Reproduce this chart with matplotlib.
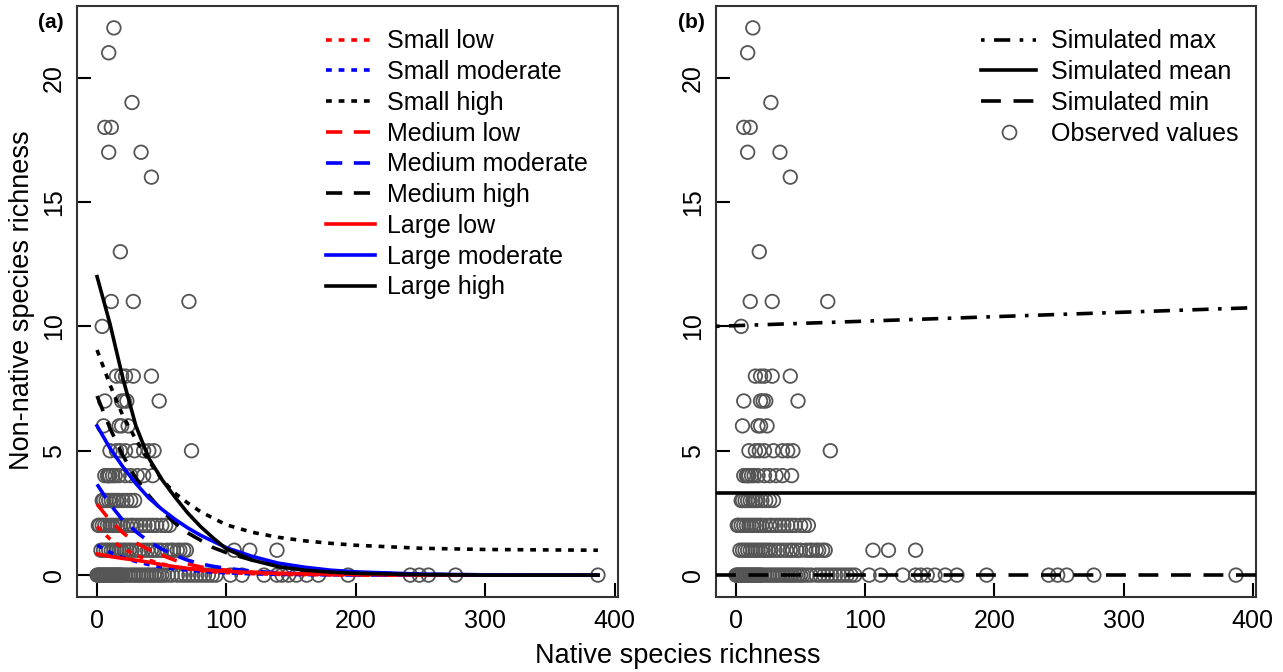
import matplotlib
matplotlib.use("Agg")
import matplotlib.pyplot as plt
from matplotlib.lines import Line2D

plt.rcParams['font.family'] = ['Liberation Sans', 'DejaVu Sans']

# ---------------- observed data (native richness, non-native richness) ----------------
obs_x_22 = [13]
obs_x_21 = [9]
obs_x_19 = [27]
obs_x_18 = [6, 11]
obs_x_17 = [9, 34]
obs_x_16 = [42]
obs_x_13 = [18]
obs_x_11 = [11, 28, 71]
obs_x_10 = [4]
obs_x_8 = [15, 19, 22, 28, 42]
obs_x_7 = [6, 19, 21, 23, 48]
obs_x_6 = [5, 17, 19, 24]
obs_x_5 = [10, 15, 18, 22, 29, 36, 40, 44, 73]
obs_x_4 = [6, 8, 9, 10, 12, 14, 17, 22, 26, 31, 36, 43]
obs_x_3 = [4, 5, 7, 9, 11, 13, 15, 17, 20, 23, 26, 29]
obs_x_2 = [1, 2, 4, 6, 8, 10, 12, 14, 16, 18, 20, 23, 26, 28, 31, 34, 37, 40,
           43, 46, 50, 53, 56]
obs_x_1 = [3, 5, 7, 9, 11, 13, 15, 17, 19, 21, 23, 25, 27, 30, 33, 36, 39, 42,
           44, 47, 50, 54, 57, 59, 62, 64, 67, 69, 106, 118, 139]
obs_x_0 = [0, 1, 2, 3, 4, 5, 6, 7, 8, 9, 10, 11, 12, 13, 14, 15, 16, 17, 18,
           19, 20, 22, 24, 26, 28, 30, 32, 34, 36, 38, 40, 42, 44, 46, 48, 50,
           52, 55, 58, 62, 65, 68, 71, 74, 77, 80, 83, 86, 89, 92, 103, 112,
           129, 139, 143, 148, 154, 162, 171, 194, 242, 249, 256, 277, 387]

obs_groups = {22: obs_x_22, 21: obs_x_21, 19: obs_x_19, 18: obs_x_18,
              17: obs_x_17, 16: obs_x_16, 13: obs_x_13, 11: obs_x_11,
              10: obs_x_10, 8: obs_x_8, 7: obs_x_7, 6: obs_x_6, 5: obs_x_5,
              4: obs_x_4, 3: obs_x_3, 2: obs_x_2, 1: obs_x_1, 0: obs_x_0}
native = []
nonnative = []
for yv, xs in obs_groups.items():
    native += xs
    nonnative += [yv] * len(xs)

# ---------------- fitted curves, panel (a) ----------------
curve_x = [0, 10, 20, 30, 40, 50, 60, 70, 80, 90, 100, 120, 140, 160, 180, 200,
           250, 300, 387]
small_low = [1.95, 1.45, 1.08, 0.80, 0.60, 0.45, 0.33, 0.25, 0.18, 0.13, 0.10,
             0.06, 0.03, 0.02, 0.01, 0.0, 0.0, 0.0, 0.0]
small_moderate = [1.20, 0.92, 0.70, 0.55, 0.42, 0.33, 0.25, 0.20, 0.15, 0.12,
                  0.09, 0.05, 0.03, 0.02, 0.01, 0.01, 0.0, 0.0, 0.0]
small_high = [9.05, 7.65, 6.40, 5.45, 4.60, 3.85, 3.30, 2.90, 2.55, 2.28, 2.02,
              1.72, 1.52, 1.38, 1.28, 1.20, 1.08, 1.03, 1.00]
medium_low = [2.85, 2.20, 1.70, 1.30, 1.02, 0.80, 0.60, 0.45, 0.33, 0.25, 0.20,
              0.12, 0.07, 0.04, 0.02, 0.01, 0.0, 0.0, 0.0]
medium_moderate = [3.65, 2.85, 2.20, 1.75, 1.35, 1.05, 0.80, 0.60, 0.45, 0.35,
                   0.27, 0.16, 0.09, 0.05, 0.03, 0.02, 0.0, 0.0, 0.0]
medium_high = [7.20, 5.90, 4.80, 3.90, 3.20, 2.60, 2.10, 1.70, 1.40, 1.10, 0.90,
               0.60, 0.40, 0.25, 0.15, 0.10, 0.03, 0.01, 0.0]
large_low = [0.85, 0.75, 0.67, 0.60, 0.52, 0.42, 0.34, 0.27, 0.22, 0.18, 0.15,
             0.10, 0.07, 0.05, 0.04, 0.03, 0.01, 0.0, 0.0]
large_moderate = [6.00, 5.10, 4.35, 3.68, 3.10, 2.65, 2.25, 1.90, 1.60, 1.35,
                  1.10, 0.75, 0.48, 0.32, 0.20, 0.13, 0.04, 0.01, 0.0]
large_high = [12.0, 10.1, 7.90, 6.00, 4.70, 3.85, 3.15, 2.50, 1.95, 1.48, 1.05,
              0.60, 0.34, 0.20, 0.12, 0.07, 0.02, 0.0, 0.0]

curve_labels = ["Small low", "Small moderate", "Small high", "Medium low",
                "Medium moderate", "Medium high", "Large low",
                "Large moderate", "Large high"]
curve_values = [small_low, small_moderate, small_high, medium_low,
                medium_moderate, medium_high, large_low, large_moderate,
                large_high]
curve_colors = ["red", "blue", "black"] * 3

# ---------------- simulated lines, panel (b) ----------------
sim_max_x = [0, 400]
sim_max_y = [10.03, 10.75]
sim_mean_y = 3.3
sim_min_y = 0.0

# ---------------- styles ----------------
dotted = (0, (1.6, 1.9))
dashed = (0, (4.5, 3.2))
dotdash = (0, (1.0, 2.6, 4.5, 2.6))
sim_dashed = (0, (5.5, 3.5))
curve_styles = [dotted] * 3 + [dashed] * 3 + ["-"] * 3
pt_color = "#555555"
FS = 18

fig = plt.figure(figsize=(12.83, 6.72), dpi=100)
W, H = 1283, 672
axA = fig.add_axes([77 / W, 1 - 597 / H, 541 / W, 591 / H])
axB = fig.add_axes([716 / W, 1 - 597 / H, 540 / W, 591 / H])

for ax in (axA, axB):
    ax.scatter(native, nonnative, s=95, facecolors="none", edgecolors=pt_color,
               linewidths=1.3, zorder=2)
    ax.set_xlim(-15.5, 402.5)
    ax.set_ylim(-0.88, 22.88)
    ax.set_xticks([0, 100, 200, 300, 400])
    ax.set_yticks([0, 5, 10, 15, 20])
    ax.tick_params(direction="in", length=10, width=1.5, labelsize=FS,
                   pad=8, colors="black")
    ax.tick_params(axis="x", pad=9)
    for lab in ax.get_yticklabels():
        lab.set_rotation(90)
        lab.set_va("center")
    for sp in ax.spines.values():
        sp.set_linewidth(1.5)
        sp.set_color("#333333")

# panel (a) curves
for lab, vals, col, ls in zip(curve_labels, curve_values, curve_colors,
                              curve_styles):
    axA.plot(curve_x, vals, color=col, linestyle=ls, linewidth=2.6, label=lab,
             zorder=3, dash_capstyle="butt")
legA = axA.legend(loc="upper left", bbox_to_anchor=(0.428, 0.99), frameon=False,
                  fontsize=FS, handlelength=1.95, handletextpad=0.5,
                  labelspacing=0.27, borderaxespad=0.3)

# panel (b) simulated
axB.axline((sim_max_x[0], sim_max_y[0]), (sim_max_x[1], sim_max_y[1]),
           color="black", linestyle=dotdash, linewidth=2.6, zorder=3)
axB.axhline(sim_mean_y, color="black", linestyle="-", linewidth=2.6, zorder=3)
axB.axhline(sim_min_y, color="black", linestyle=sim_dashed, linewidth=2.6,
            zorder=3)
handlesB = [
    Line2D([], [], color="black", linestyle=dotdash, linewidth=2.6),
    Line2D([], [], color="black", linestyle="-", linewidth=2.6),
    Line2D([], [], color="black", linestyle=sim_dashed, linewidth=2.6),
    Line2D([], [], color=pt_color, marker="o", linestyle="none",
           markerfacecolor="none", markersize=10, markeredgewidth=1.3),
]
axB.legend(handles=handlesB,
           labels=["Simulated max", "Simulated mean", "Simulated min",
                   "Observed values"],
           loc="upper right", bbox_to_anchor=(1.0, 0.99), frameon=False,
           fontsize=FS, handlelength=2.2, handletextpad=0.6,
           labelspacing=0.27, borderaxespad=0.3)

# panel tags & axis labels
fig.text(38 / W, 1 - 22 / H, "(a)", fontsize=15, fontweight="bold",
         ha="left", va="center")
fig.text(678 / W, 1 - 22 / H, "(b)", fontsize=15, fontweight="bold",
         ha="left", va="center")
fig.text(678 / W, 1 - 656 / H, "Native species richness", fontsize=19.5,
         ha="center", va="center")
fig.text(22 / W, 1 - 300 / H, "Non-native species richness", fontsize=19.5,
         ha="center", va="center", rotation=90)

fig.savefig("out.png", dpi=100)
